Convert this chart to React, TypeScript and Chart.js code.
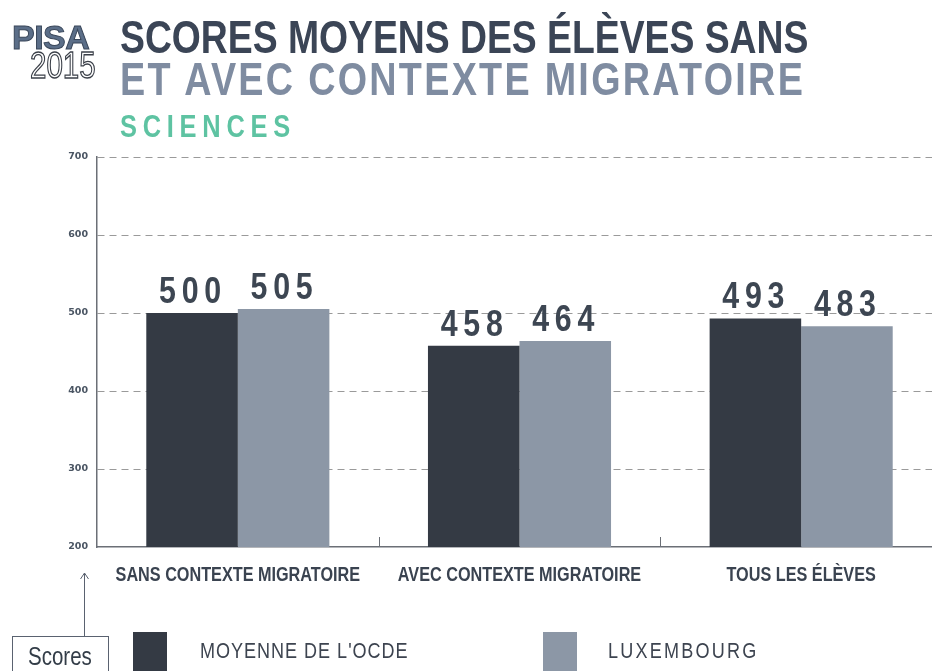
import React, { useEffect, useRef } from "react";
import { Chart, registerables } from "chart.js";

Chart.register(...registerables);

const categories = ["SANS CONTEXTE MIGRATOIRE", "AVEC CONTEXTE MIGRATOIRE", "TOUS LES ÉLÈVES"];
const seriesNames = ["MOYENNE DE L'OCDE", "LUXEMBOURG"];
const oecdValues = [500, 458, 493];
const luxValues = [505, 464, 483];
const yTicks = [200, 300, 400, 500, 600, 700];
const seriesColors = ["#343a44", "#8c97a6"];

const titleLine1 = "SCORES MOYENS DES ÉLÈVES SANS";
const titleLine2 = "ET AVEC CONTEXTE MIGRATOIRE";
const subtitle = "SCIENCES";
const axisNote = "Scores";

const SANS = '"Liberation Sans", Arial, sans-serif';
const NARROW_SCALE = 0.82;

function drawNarrow(ctx: any, text: string, x: number, y: number, spacing: number) {
  ctx.save();
  ctx.translate(x, y);
  ctx.scale(NARROW_SCALE, 1);
  ctx.letterSpacing = spacing + "px";
  ctx.fillText(text, spacing / 2, 0);
  ctx.restore();
}

const valueLabels = {
  id: "valueLabels",
  afterDatasetsDraw(chart: any) {
    const ctx = chart.ctx;
    ctx.save();
    ctx.font = `bold 37px ${SANS}`;
    ctx.fillStyle = "#3d4652";
    ctx.textAlign = "center";
    ctx.textBaseline = "alphabetic";
    chart.data.datasets.forEach((ds: any, di: number) => {
      const meta = chart.getDatasetMeta(di);
      meta.data.forEach((bar: any, i: number) => {
        drawNarrow(ctx, String(ds.data[i]), bar.x - 2, bar.y - 10, 7);
      });
    });
    ctx.restore();
  },
};

const categoryAxis = {
  id: "categoryAxis",
  afterDraw(chart: any) {
    const ctx = chart.ctx;
    const xs = chart.scales.x;
    const bottom = chart.chartArea.bottom;
    ctx.save();
    ctx.strokeStyle = "#6b6f76";
    ctx.lineWidth = 1;
    ctx.beginPath();
    for (let i = 1; i < categories.length; i++) {
      const px = Math.round((xs.getPixelForValue(i - 1) + xs.getPixelForValue(i)) / 2) + 0.5;
      ctx.moveTo(px, bottom - 10);
      ctx.lineTo(px, bottom);
    }
    ctx.stroke();
    ctx.font = `bold 19.8px ${SANS}`;
    ctx.fillStyle = "#3a4350";
    ctx.textAlign = "center";
    ctx.textBaseline = "alphabetic";
    categories.forEach((label, i) => {
      drawNarrow(ctx, label, xs.getPixelForValue(i), bottom + 33.5, 0);
    });
    ctx.restore();
  },
};

export default function App() {
  const canvasRef = useRef<HTMLCanvasElement | null>(null);

  useEffect(() => {
    const canvas = canvasRef.current;
    if (!canvas) return;
    const chart = new Chart(canvas, {
      type: "bar",
      data: {
        labels: categories,
        datasets: [
          {
            label: seriesNames[0],
            data: oecdValues,
            backgroundColor: seriesColors[0],
            barPercentage: 1,
            categoryPercentage: 0.65,
          },
          {
            label: seriesNames[1],
            data: luxValues,
            backgroundColor: seriesColors[1],
            barPercentage: 1,
            categoryPercentage: 0.65,
          },
        ],
      },
      options: {
        responsive: false,
        animation: false,
        devicePixelRatio: 1,
        layout: { padding: { top: 157, right: 18, bottom: 0, left: 0 } },
        plugins: {
          legend: { display: false },
          tooltip: { enabled: false },
          title: { display: false },
        },
        scales: {
          x: {
            offset: true,
            grid: { display: false, drawTicks: false },
            border: { display: true, color: "#6b6f76", width: 1.5 },
            ticks: { display: false },
            afterFit: (s: any) => {
              s.height = 124;
            },
          },
          y: {
            min: 200,
            max: 700,
            afterBuildTicks: (s: any) => {
              s.ticks = yTicks.map((v) => ({ value: v }));
            },
            grid: {
              color: (c: any) => (c.tick && c.tick.value === 200 ? "rgba(0,0,0,0)" : "#9a9a9a"),
              lineWidth: 1,
              drawTicks: false,
            },
            border: { display: true, color: "#6b6f76", width: 1.5, dash: [7, 5] },
            ticks: {
              color: "#4a5563",
              font: { family: '"DejaVu Sans", sans-serif', weight: "bold", size: 9.5 },
              padding: 9,
            },
            afterFit: (s: any) => {
              s.width = 97;
            },
          },
        },
      } as any,
      plugins: [valueLabels, categoryAxis],
    });
    return () => chart.destroy();
  }, []);

  const abs = (o: React.CSSProperties): React.CSSProperties => ({ position: "absolute", whiteSpace: "nowrap", ...o });
  const narrow = (o: React.CSSProperties): React.CSSProperties =>
    abs({ fontFamily: SANS, transform: `scaleX(${NARROW_SCALE})`, transformOrigin: "0 0", ...o });

  return (
    <div style={{ position: "absolute", left: 0, top: 0, width: 932, height: 671, overflow: "hidden", background: "#fff" }}>
      <canvas ref={canvasRef} width={960} height={671} style={{ position: "absolute", left: 0, top: 0, width: 960, height: 671 }} />

      {/* PISA 2015 logo */}
      <div style={abs({ left: 12, top: 20, fontFamily: SANS, fontWeight: 700, fontSize: 34, lineHeight: "34px", color: "#5b6e88", WebkitTextStroke: "1px #3a475a", letterSpacing: "-0.5px" })}>PISA</div>
      <div style={narrow({ left: 30, top: 48, fontWeight: 400, fontSize: 36, lineHeight: "36px", color: "#ffffff", WebkitTextStroke: "1.3px #3a3f48" })}>2015</div>

      {/* Titles */}
      <div style={narrow({ left: 120, top: 15, fontWeight: 700, fontSize: 45.5, lineHeight: "46px", color: "#3b4556" })}>{titleLine1}</div>
      <div style={narrow({ left: 120, top: 56, fontWeight: 700, fontSize: 46, lineHeight: "46px", color: "#7f8ca1", letterSpacing: "2.8px" })}>{titleLine2}</div>
      <div style={narrow({ left: 120, top: 111, fontWeight: 700, fontSize: 31, lineHeight: "31px", color: "#5ec3a2", letterSpacing: "7px" })}>{subtitle}</div>

      {/* Scores note with arrow */}
      <svg width={932} height={671} style={{ position: "absolute", left: 0, top: 0, pointerEvents: "none" }}>
        <line x1={84.5} y1={636} x2={84.5} y2={573} stroke="#5a6270" strokeWidth={1} />
        <polyline points="80.5,579 84.5,573 88.5,579" fill="none" stroke="#5a6270" strokeWidth={1} />
      </svg>
      <div style={abs({ left: 12, top: 636, width: 97, height: 60, border: "1px solid #5a6270", boxSizing: "border-box", background: "#fff" })} />
      <div style={narrow({ left: 28, top: 644, fontSize: 25, lineHeight: "25px", color: "#333d48" })}>{axisNote}</div>

      {/* Legend */}
      <div style={abs({ left: 133, top: 632, width: 34, height: 60, background: seriesColors[0] })} />
      <div style={narrow({ left: 200, top: 640, fontSize: 22, lineHeight: "22px", color: "#3d4450", letterSpacing: "1.2px" })}>{seriesNames[0]}</div>
      <div style={abs({ left: 543, top: 632, width: 34, height: 60, background: seriesColors[1] })} />
      <div style={narrow({ left: 608, top: 640, fontSize: 22, lineHeight: "22px", color: "#3d4450", letterSpacing: "2.7px" })}>{seriesNames[1]}</div>
    </div>
  );
}
